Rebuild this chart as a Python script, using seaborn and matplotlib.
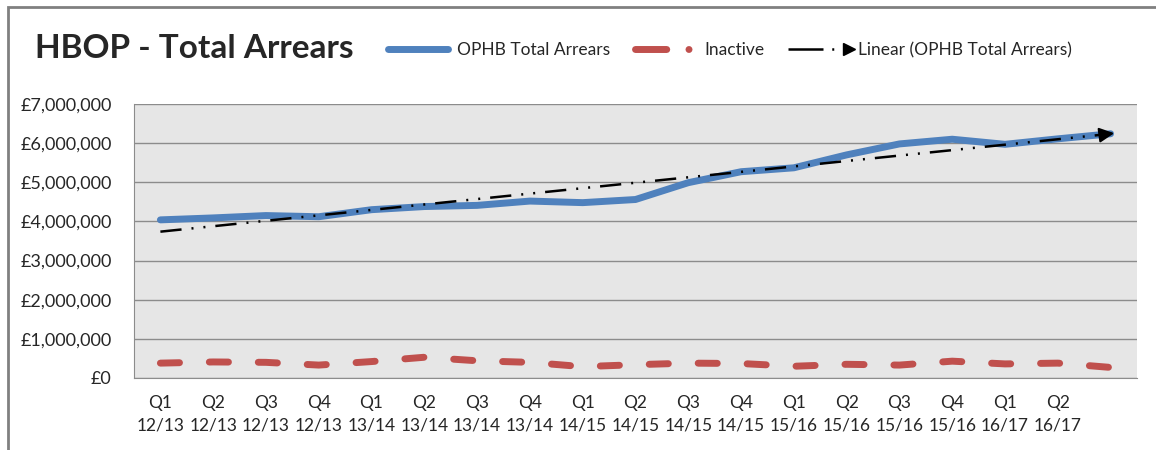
import numpy as np
import pandas as pd
import matplotlib
matplotlib.use("Agg")
import matplotlib.pyplot as plt
import seaborn as sns
from matplotlib.lines import Line2D
from matplotlib.patches import Rectangle
from matplotlib.ticker import FuncFormatter
from matplotlib.legend_handler import HandlerLine2D

# data
quarters = ["Q1\n12/13", "Q2\n12/13", "Q3\n12/13", "Q4\n12/13",
            "Q1\n13/14", "Q2\n13/14", "Q3\n13/14", "Q4\n13/14",
            "Q1\n14/15", "Q2\n14/15", "Q3\n14/15", "Q4\n14/15",
            "Q1\n15/16", "Q2\n15/16", "Q3\n15/16", "Q4\n15/16",
            "Q1\n16/17", "Q2\n16/17", ""]
total_arrears = [4040000, 4090000, 4150000, 4120000, 4300000, 4380000, 4410000,
                 4520000, 4480000, 4560000, 4990000, 5270000, 5370000, 5700000,
                 5980000, 6100000, 5970000, 6110000, 6240000]
inactive = [380000, 410000, 400000, 330000, 420000, 530000, 440000, 400000,
            290000, 340000, 380000, 370000, 300000, 350000, 330000, 430000,
            360000, 380000, 270000]

BLUE = "#4F81BD"
RED = "#C0504D"


class ArrowEndHandler(HandlerLine2D):
    # arrow head on the right end of the legend sample, not the middle
    def create_artists(self, legend, orig_handle, xdescent, ydescent,
                       width, height, fontsize, trans):
        artists = super().create_artists(legend, orig_handle, xdescent, ydescent,
                                         width, height, fontsize, trans)
        artists[0].set_markevery([2])
        return artists


sns.set_style("white")
plt.rcParams["font.family"] = ["Lato", "DejaVu Sans"]

df = pd.DataFrame({"pos": np.arange(len(quarters)),
                   "total": total_arrears,
                   "inactive": inactive})

fig = plt.figure(figsize=(11.56, 4.5), dpi=100)
ax = fig.add_axes([134 / 1156, 72 / 450, (1137 - 134) / 1156, (378 - 104) / 450])
ax.set_facecolor("#E6E6E6")

sns.lineplot(data=df, x="pos", y="total", ax=ax, color=BLUE, lw=5,
             solid_capstyle="round", solid_joinstyle="round", zorder=3)
sns.lineplot(data=df, x="pos", y="inactive", ax=ax, color=RED, lw=5,
             dash_capstyle="round", zorder=3)
ax.lines[-1].set_linestyle((0, (2.75, 4.3)))

# linear trendline like excel
coef = np.polyfit(df["pos"], df["total"], 1)
trend = np.polyval(coef, df["pos"])
ax.plot(df["pos"], trend, color="black", lw=1.8,
        linestyle=(0, (8.5, 4, 0.8, 4, 0.8, 4)), zorder=4)
ax.annotate("", xy=(df["pos"].iloc[-1] + 0.12, trend[-1] + 25000),
            xytext=(df["pos"].iloc[-1] - 0.25, trend[-1] - 40000),
            arrowprops=dict(arrowstyle="-|>,head_length=0.9,head_width=0.45",
                            color="black", lw=1.5), zorder=5)

ax.set_xlim(-0.5, len(quarters) - 0.5)
ax.set_ylim(0, 7000000)
ax.set_yticks(np.arange(0, 7000001, 1000000))
ax.yaxis.set_major_formatter(FuncFormatter(lambda v, p: "£{:,.0f}".format(v)))
ax.grid(axis="y", color="#8C8C8C", lw=1)
ax.set_axisbelow(True)

ax.set_xticks(np.arange(-0.5, len(quarters), 1))
ax.set_xticklabels([])
ax.set_xticks(np.arange(len(quarters)), minor=True)
ax.set_xticklabels(quarters, minor=True, fontsize=12.5, linespacing=1.5)
ax.tick_params(axis="x", which="major", length=6, color="#8C8C8C", direction="out")
ax.tick_params(axis="x", which="minor", length=0, pad=12)
ax.tick_params(axis="y", length=6, color="#8C8C8C", labelsize=13, pad=10)
ax.set_xlabel("")
ax.set_ylabel("")
for s in ["top", "right"]:
    ax.spines[s].set_visible(False)
for s in ["left", "bottom"]:
    ax.spines[s].set_color("#8C8C8C")

fig.text(35 / 1156, 1 - 48 / 450, "HBOP - Total Arrears", fontsize=24,
         fontweight="bold", va="center", ha="left")

trend_handle = Line2D([], [], color="black", lw=1.8, linestyle=(0, (14, 3.5, 0.8, 20)),
                      marker=">", markersize=8)
handles = [Line2D([], [], color=BLUE, lw=5, solid_capstyle="round"),
           Line2D([], [], color=RED, lw=5, linestyle=(0, (4.5, 3.2, 0.01, 20)),
                  dash_capstyle="round"),
           trend_handle]
fig.legend(handles, ["OPHB Total Arrears", "Inactive", "Linear (OPHB Total Arrears)"],
           loc="center left", bbox_to_anchor=(372 / 1156, 1 - 50 / 450), ncol=3,
           frameon=False, fontsize=12.5, handlelength=3.5, handletextpad=0.5,
           columnspacing=1.4, numpoints=1,
           handler_map={trend_handle: ArrowEndHandler()})

fig.patches.append(Rectangle((8 / 1156, -0.1), 1.1, 1.1 - 7 / 450,
                             transform=fig.transFigure, fill=False,
                             edgecolor="#808080", lw=2))

fig.savefig("out.png", dpi=100)
